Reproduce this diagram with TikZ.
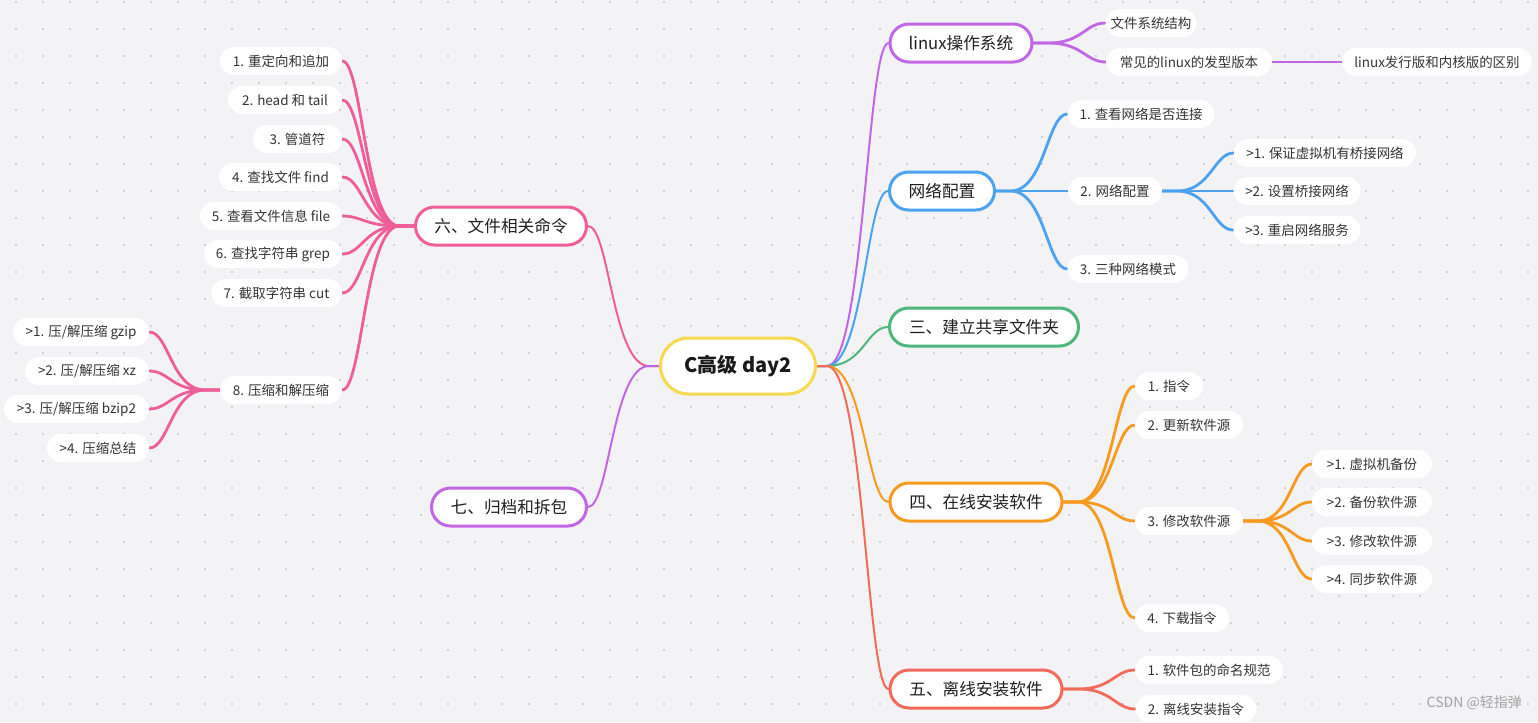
\documentclass[tikz,border=0pt]{standalone}
\usepackage{fontspec}
\setmainfont{Noto Sans CJK SC}
\usetikzlibrary{calc}
\definecolor{bgc}{HTML}{F3F3F5}
\definecolor{dotc}{HTML}{D2D2D6}
\definecolor{cyel}{HTML}{F6D94E}
\definecolor{cpink}{HTML}{EF5E98}
\definecolor{cpur}{HTML}{C266E6}
\definecolor{cblue}{HTML}{4BA2F0}
\definecolor{cgreen}{HTML}{4DB67B}
\definecolor{corg}{HTML}{F79A1F}
\definecolor{cred}{HTML}{F26A58}
\definecolor{txt}{HTML}{333333}
\definecolor{wm}{HTML}{A3A3A3}
\pgfdeclarelayer{back}
\pgfdeclarelayer{mid}
\pgfsetlayers{back,mid,main}
\tikzset{
  bw/.style={minimum width=#1*0.75pt},
  sub/.style={fill=white, rounded corners=10.5pt, minimum height=21pt, inner sep=0pt,
    font=\fontsize{10.1}{11}\selectfont, text=txt},
  topic/.style={draw=#1, line width=2.25pt, fill=white, rounded corners=14.25pt,
    minimum height=28.5pt, inner sep=0pt, font=\fontsize{12.5}{14}\selectfont, text=black!88},
  root/.style={draw=cyel, line width=2.25pt, fill=white, rounded corners=21pt,
    minimum height=42pt, inner sep=0pt, font=\bfseries\fontsize{15}{17}\selectfont, text=black!90},
  mainbr/.style={draw=#1, line width=1.5pt, line cap=round},
  subbr/.style={draw=#1, line width=2.1pt, line cap=round},
}
% #1 style, #2 start point, #3 end point, #4 stub length
\newcommand\lk[4]{%
  \draw[#1] let \p1=#2, \p2=#3 in (\p1) -- ({\x1+#4},\y1)
    .. controls ({\x1+#4+0.6*(\x2-\x1-#4)},\y1) and ({\x2-0.35*(\x2-\x1-#4)},\y2) .. (\p2);}
\begin{document}
\begin{tikzpicture}[x=0.75pt,y=-0.75pt]
\useasboundingbox (0,0) rectangle (1538,722);
\begin{pgfonlayer}{back}
  \fill[bgc] (0,0) rectangle (1538,722);
  \foreach \i in {0,...,56} {
    \foreach \j in {0,...,26} {
      \fill[dotc] ({15+27*\i},{1+27*\j}) rectangle ++(2,2);
    }
  }
\end{pgfonlayer}

% root
\node[root, bw=155] (c) at (738,366) {C高级 day2};

% right topics
\node[topic=cpur,   bw=142] (t1) at (961,43)  {linux操作系统};
\node[topic=cblue,  bw=105] (t2) at (942,191) {网络配置};
\node[topic=cgreen, bw=189] (t3) at (984,327) {三、建立共享文件夹};
\node[topic=corg,   bw=172] (t4) at (976,502) {四、在线安装软件};
\node[topic=cred,   bw=172] (t5) at (976,689) {五、离线安装软件};
% left topics
\node[topic=cpink,  bw=171] (t6) at (501,226) {六、文件相关命令};
\node[topic=cpur,   bw=155] (t7) at (509,507) {七、归档和拆包};

% linux
\node[sub, bw=91]  (s11)  at (1151,23) {文件系统结构};
\node[sub, bw=166] (s12)  at (1189,62) {常见的linux的发型版本};
\node[sub, bw=190] (s121) at (1437,62) {linux发行版和内核版的区别};
% network
\node[sub, bw=147] (s21) at (1141,114) {1. 查看网络是否连接};
\node[sub, bw=94]  (s22) at (1115,191) {2. 网络配置};
\node[sub, bw=121] (s23) at (1128,269) {3. 三种网络模式};
\node[sub, bw=182] (s221) at (1325,153) {>1. 保证虚拟机有桥接网络};
\node[sub, bw=127] (s222) at (1297,191) {>2. 设置桥接网络};
\node[sub, bw=127] (s223) at (1297,230) {>3. 重启网络服务};
% online install
\node[sub, bw=68]  (s41) at (1169,386) {1. 指令};
\node[sub, bw=108] (s42) at (1189,425) {2. 更新软件源};
\node[sub, bw=108] (s43) at (1189,521) {3. 修改软件源};
\node[sub, bw=94]  (s44) at (1182,618) {4. 下载指令};
\node[sub, bw=120] (s431) at (1372,464) {>1. 虚拟机备份};
\node[sub, bw=120] (s432) at (1372,502) {>2. 备份软件源};
\node[sub, bw=120] (s433) at (1372,541) {>3. 修改软件源};
\node[sub, bw=120] (s434) at (1372,579) {>4. 同步软件源};
% offline install
\node[sub, bw=148] (s51) at (1209,670) {1. 软件包的命名规范};
\node[sub, bw=121] (s52) at (1196,709) {2. 离线安装指令};
% file commands
\node[sub, bw=122] (s61) at (281,61)    {1. 重定向和追加};
\node[sub, bw=114] (s62) at (285,100)   {2. head 和 tail};
\node[sub, bw=89]  (s63) at (297.5,139) {3. 管道符};
\node[sub, bw=123] (s64) at (280.5,177) {4. 查找文件 find};
\node[sub, bw=142] (s65) at (271,216)   {5. 查看文件信息 file};
\node[sub, bw=138] (s66) at (273,254)   {6. 查找字符串 grep};
\node[sub, bw=131] (s67) at (276.5,293) {7. 截取字符串 cut};
\node[sub, bw=122] (s68) at (281,390)   {8. 压缩和解压缩};
\node[sub, bw=136] (s681) at (81,332)   {>1. 压/解压缩 gzip};
\node[sub, bw=124] (s682) at (87,371)   {>2. 压/解压缩 xz};
\node[sub, bw=145] (s683) at (76.5,409) {>3. 压/解压缩 bzip2};
\node[sub, bw=102] (s684) at (98,448)   {>4. 压缩总结};

% watermark
\node[font=\fontsize{10.5}{12}\selectfont, text=wm, anchor=east, inner sep=0pt] (wmk) at (1522,703) {CSDN @轻指弹};

\begin{pgfonlayer}{mid}
  \lk{mainbr=cpur}{(c.east)}{(t1.west)}{7.5pt}
  \lk{mainbr=cblue}{(c.east)}{(t2.west)}{7.5pt}
  \lk{mainbr=cgreen}{(c.east)}{(t3.west)}{7.5pt}
  \lk{mainbr=corg}{(c.east)}{(t4.west)}{7.5pt}
  \lk{mainbr=cred}{(c.east)}{(t5.west)}{7.5pt}
  \lk{mainbr=cpink}{(c.west)}{(t6.east)}{-7.5pt}
  \lk{mainbr=cpur}{(c.west)}{(t7.east)}{-7.5pt}

  \lk{subbr=cpur}{(t1.east)}{(s11.west)}{11pt}
  \lk{subbr=cpur}{(t1.east)}{(s12.west)}{11pt}
  \draw[subbr=cpur] (s12.east) -- (s121.west);

  \foreach \nm in {s21,s22,s23} {\lk{subbr=cblue}{(t2.east)}{(\nm.west)}{11pt}}
  \foreach \nm in {s221,s222,s223} {\lk{subbr=cblue}{(s22.east)}{(\nm.west)}{11pt}}

  \foreach \nm in {s41,s42,s43,s44} {\lk{subbr=corg}{(t4.east)}{(\nm.west)}{11pt}}
  \foreach \nm in {s431,s432,s433,s434} {\lk{subbr=corg}{(s43.east)}{(\nm.west)}{11pt}}

  \foreach \nm in {s51,s52} {\lk{subbr=cred}{(t5.east)}{(\nm.west)}{11pt}}

  \foreach \nm in {s61,s62,s63,s64,s65,s66,s67,s68} {\lk{subbr=cpink}{(t6.west)}{(\nm.east)}{-11pt}}
  \foreach \nm in {s681,s682,s683,s684} {\lk{subbr=cpink}{(s68.west)}{(\nm.east)}{-11pt}}
\end{pgfonlayer}
\end{tikzpicture}
\end{document}
